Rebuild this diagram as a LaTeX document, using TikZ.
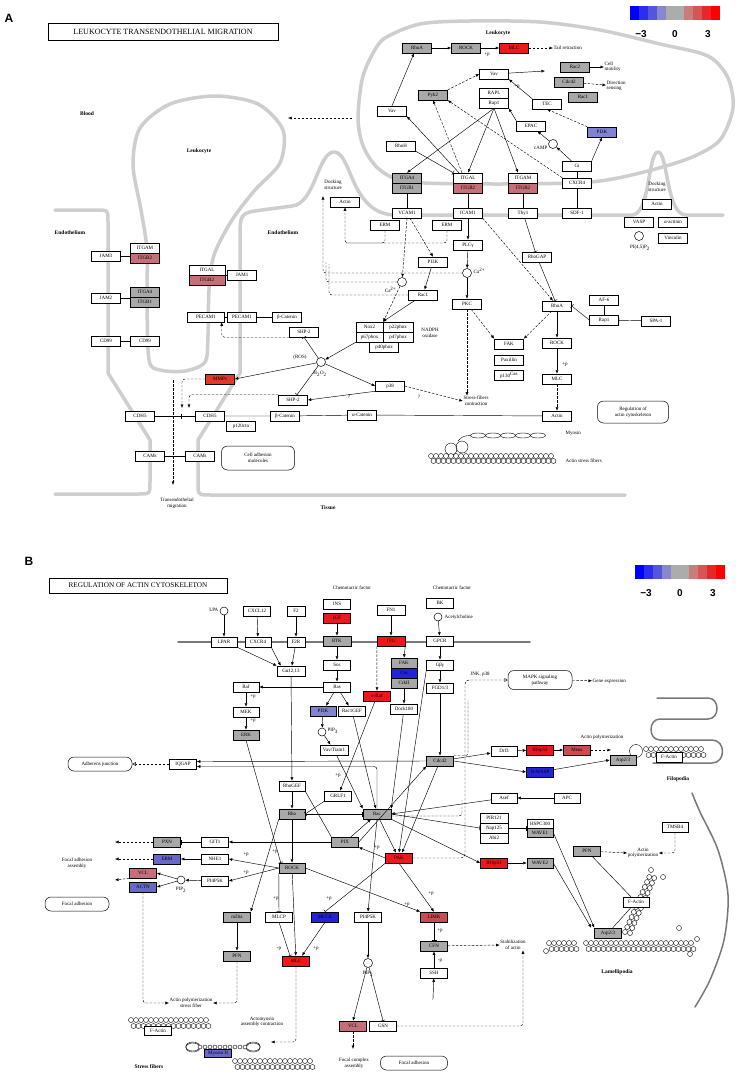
\documentclass[tikz,border=0pt]{standalone}
\usepackage{fontspec}
\setmainfont{Liberation Serif}
\newfontfamily\panelfont{Liberation Sans}
\newfontfamily\titlefont{Liberation Serif}
\usetikzlibrary{arrows.meta}

\definecolor{kgray}{RGB}{168,168,168}
\definecolor{kred}{RGB}{236,24,30}
\definecolor{kmmp}{RGB}{226,56,40}
\definecolor{kpink}{RGB}{196,112,120}
\definecolor{krose}{RGB}{200,76,84}
\definecolor{klav}{RGB}{130,130,210}
\definecolor{kmid}{RGB}{104,104,200}
\definecolor{kblue}{RGB}{36,36,214}
\definecolor{kmem}{RGB}{206,206,206}
\definecolor{kmemb}{RGB}{120,120,120}
\definecolor{lg0}{RGB}{0,0,255}
\definecolor{lg1}{RGB}{45,45,240}
\definecolor{lg2}{RGB}{85,85,220}
\definecolor{lg3}{RGB}{135,135,205}
\definecolor{lg4}{RGB}{172,172,172}
\definecolor{lg5}{RGB}{172,172,172}
\definecolor{lg6}{RGB}{200,125,125}
\definecolor{lg7}{RGB}{214,85,85}
\definecolor{lg8}{RGB}{232,40,40}
\definecolor{lg9}{RGB}{255,0,0}

\tikzset{
  gene/.style={draw,line width=0.5pt,fill=white,minimum width=29pt,minimum height=10pt,inner sep=0pt,font=\fontsize{5}{5}\selectfont},
  cpd/.style={circle,draw,line width=0.5pt,fill=white,minimum size=9pt,inner sep=0pt},
  txt/.style={font=\fontsize{5}{5.6}\selectfont,align=center,inner sep=0.5pt},
  region/.style={font=\fontsize{5.5}{6}\selectfont\bfseries,inner sep=0pt},
  pathway/.style={draw,line width=0.5pt,rounded corners=6pt,fill=white,font=\fontsize{5}{5.6}\selectfont,align=center,inner sep=1pt},
  titlebox/.style={draw,line width=0.8pt,inner sep=0pt,font=\titlefont},
  panel/.style={font=\panelfont\bfseries\fontsize{12}{12}\selectfont,inner sep=0pt},
  legnum/.style={font=\panelfont\bfseries\fontsize{10}{10}\selectfont,inner sep=0pt},
  act/.style={-{Latex[length=3.5pt,width=3pt]},line width=0.45pt},
  inh/.style={-{Bar[width=5pt]},line width=0.45pt},
  dact/.style={act,dash pattern=on 2.5pt off 1.5pt},
  ddash/.style={line width=0.45pt,dash pattern=on 2.5pt off 1.5pt},
  oact/.style={-{Triangle[open,length=3.5pt,width=3.5pt]},line width=0.45pt,dash pattern=on 2.5pt off 1.5pt},
  plain/.style={line width=0.45pt},
  membrane/.style={line width=3.5pt,color=kmem,line cap=round,line join=round},
  membraneb/.style={line width=1.8pt,color=kmemb,line cap=round,line join=round},
  bead/.style={line width=0.4pt}
}

\begin{document}
\begin{tikzpicture}[x=1pt,y=-1pt]
\useasboundingbox (0,0) rectangle (740,1079);
\fill[white] (0,0) rectangle (740,1079);

% ===== panel A =====
\node[panel] (pa) at (9,18) {A};
\node[titlebox,minimum width=230pt,minimum height=17pt] (titlea) at (163,31.5) {\fontsize{8}{8}\selectfont LEUKOCYTE TRANSENDOTHELIAL MIGRATION};

% cell outlines
\draw[membrane] (55,210) -- (96,210) .. controls (108,210) .. (108,222) -- (108,373) -- (150,440) -- (150,482) .. controls (150,494) .. (138,494) -- (55,494);
\draw[membrane] plot[smooth cycle] coordinates {(147,300)(147,250)(141,210)(133,165)(140,128)(170,104)(215,96)(258,104)(283,130)(280,163)(255,190)(232,220)(214,255)(209,290)(208,335)(205,362)(185,371)(160,370)(149,360)};
\draw[membrane] (625,495) -- (211,495) .. controls (198,495) .. (198,482) -- (198,440) -- (240,373) -- (240,240) .. controls (240,213) .. (262,210) -- (292,206) .. controls (315,204) and (318,152) .. (334,152) .. controls (352,152) and (350,214) .. (395,215) -- (632,215) .. controls (650,215) and (648,152) .. (658,152) .. controls (668,152) and (666,215) .. (686,215) -- (723,215);
\draw[membrane] plot[smooth cycle] coordinates {(372,55)(362,80)(358,120)(364,148)(380,170)(410,182)(500,184)(590,182)(640,173)(690,158)(720,140)(733,108)(728,78)(708,56)(660,44)(600,30)(540,22)(470,21)(420,24)(385,38)};

% colour keys
\foreach \lx/\ly/\nm in {630/6/a,635/565/b}{
  \foreach \c [count=\i from 0] in {lg0,lg1,lg2,lg3,lg4,lg5,lg6,lg7,lg8,lg9}
    \fill[\c] (\lx+\i*9,\ly) rectangle ++(9,14);
  \node[legnum] (lm\nm) at (\lx+11,\ly+28) {−3};
  \node[legnum] (lz\nm) at (\lx+45,\ly+28) {0};
  \node[legnum] (lp\nm) at (\lx+78,\ly+28) {3};
}

\node[region] (blood) at (87,114) {Blood};
\node[region] (leuka) at (199,151) {Leukocyte};
\node[region] (leukb) at (498,33) {Leukocyte};
\node[region] (endoa) at (70,233) {Endothelium};
\node[region] (endob) at (283,233) {Endothelium};
\node[region] (tissue) at (328,508) {Tissue};

% leukocyte
\node[gene,fill=kgray] (rhoa) at (417,48) {RhoA};
\node[gene,fill=kgray] (rock) at (466,48) {ROCK};
\node[gene,fill=kred] (mlc) at (514,48) {MLC};
\node[txt,anchor=west] (tail) at (553,48) {Tail retraction};
\node[gene] (vavt) at (494,74) {Vav};
\node[gene,fill=kgray] (rac2) at (575,67) {Rac2};
\node[txt,anchor=west,align=left] (motil) at (604,67) {Cell\\motility};
\node[gene,fill=kgray] (cdc42a) at (569,82) {Cdc42};
\node[txt,anchor=west,align=left] (dirsens) at (606,86) {Direction\\sensing};
\node[gene,fill=kgray] (rac1a) at (583,97) {Rac1};
\node[gene,fill=kgray] (pyk2) at (433,95) {Pyk2};
\node[gene] (rapl) at (494,93) {RAPL};
\node[gene] (rap1a) at (494,103) {Rap1};
\node[gene] (tec) at (547,104) {TEC};
\node[gene] (vavl) at (392,111) {Vav};
\node[gene] (epac) at (531,126) {EPAC};
\node[gene,fill=klav] (pi3ka) at (602,132) {PI3K};
\node[cpd] (camp) at (553,144) {};
\node[txt,anchor=east] (camptxt) at (548,148) {cAMP};
\node[gene] (rhoh) at (401,146) {RhoH};
\node[gene] (gi) at (577,166) {Gi};
\node[gene] (cxcr4a) at (577,183) {CXCR4};
\node[gene,fill=kgray] (itga4a) at (407,178) {ITGA4};
\node[gene,fill=kgray] (itgb1a) at (407,188) {ITGB1};
\node[gene] (itgala) at (468,178) {ITGAL};
\node[gene,fill=kpink] (itgb2a) at (468,188) {ITGB2};
\node[gene] (itgama) at (523,178) {ITGAM};
\node[gene,fill=kpink] (itgb2b) at (523,188) {ITGB2};
\coordinate (racgrp) at (545,71);
\coordinate (outa) at (352,118);
\coordinate (outb) at (288,118);
\node[txt] (ppa) at (487,55) {+p};
\node[txt] (ppb) at (517,87) {+p};

\draw[act] (rhoa) -- (rock);
\draw[act] (rock) -- (mlc);
\draw[dact] (mlc) -- (tail);
\draw[act] (vavl.north) -- ([xshift=-3pt]rhoa.south);
\draw[dact] (pyk2.north east) -- (vavt.west);
\draw[act] (vavt) -- (racgrp);
\draw[act] (rac2) -- (motil);
\draw[dact] (cdc42a) -- (dirsens);
\draw[act] (tec.north west) -- (vavt.south east);
\draw[act] (rap1a.south) -- (itga4a.north);
\draw[act] (rap1a.south) -- (itgala.north);
\draw[act] (rap1a.south) -- ([xshift=-5pt]itgama.north);
\draw[act] (epac.north west) -- (rap1a.south east);
\draw[act] (camp) -- (epac);
\draw[act] (gi) -- (camp);
\draw[act] (gi.north east) -- (pi3ka.south);
\draw[dact] (pi3ka.north west) -- (tec.south);
\draw[dact] (cxcr4a.north west) -- (pyk2.south east);
\draw[dact] ([xshift=-6pt]itgala.north) -- (pyk2.south);
\draw[act] ([xshift=-9pt]itgala.north) -- (vavl.south east);
\draw[inh] (rhoh.south east) -- (itgala.north west);
\draw[plain] (gi) -- (cxcr4a);
\draw[dact] (outa) -- (outb);

% endothelium
\node[gene] (vcam1) at (407,213) {VCAM1};
\node[gene] (icam1) at (468,213) {ICAM1};
\node[gene] (thy1) at (523,213) {Thy1};
\node[gene] (sdf1) at (577,213) {SDF-1};
\node[txt] (docka) at (333,185) {Docking\\structure};
\node[gene] (actina) at (345,202) {Actin};
\node[txt] (dockb) at (657,187) {Docking\\structure};
\node[gene] (actinc) at (657,204) {Actin};
\node[gene] (vasp) at (639,222) {VASP};
\node[gene] (actnn) at (673,222) {α-actinin};
\node[gene] (vinc) at (673,238) {Vinculin};
\node[cpd] (pip45) at (639,236) {};
\node[txt] (pip45txt) at (640,248) {PI(4,5)P\textsubscript{2}};
\node[gene] (erml) at (385,225) {ERM};
\node[gene] (ermr) at (447,225) {ERM};
\node[gene] (plcg) at (468,245) {PLCγ};
\node[gene] (pi3ke) at (433,262) {PI3K};
\node[cpd] (car) at (467,273) {};
\node[txt,anchor=west] (cartxt) at (473,271) {Ca\textsuperscript{2+}};
\node[cpd] (cal) at (402,282) {};
\node[txt,anchor=east] (caltxt) at (397,290) {Ca\textsuperscript{2+}};
\node[gene] (rac1e) at (423,295) {Rac1};
\node[gene] (pkc) at (467,304) {PKC};
\node[gene,minimum width=27pt] (nox2) at (369.5,327) {Nox2};
\node[gene,minimum width=30pt] (p22) at (398,327) {p22phox};
\node[gene,minimum width=27pt] (p67) at (369.5,337) {p67phox};
\node[gene,minimum width=30pt] (p47) at (398,337) {p47phox};
\node[gene] (p40) at (384,347) {p40phox};
\node[txt] (nadph) at (430,333) {NADPH\\oxidase};
\node[gene] (rhogap) at (537,257) {RhoGAP};
\node[gene] (rhoae) at (557,306) {RhoA};
\node[gene] (af6) at (604,300) {AF-6};
\node[gene] (rap1e) at (604,320) {Rap1};
\node[gene] (spa1) at (656,321) {SPA-1};
\node[gene] (rocke) at (557,343) {ROCK};
\node[gene] (mlce) at (557,379) {MLC};
\node[gene] (fak) at (509,344) {FAK};
\node[gene] (pax) at (509,360) {Paxillin};
\node[gene] (p130) at (509,375) {p130\textsuperscript{Cas}};
\node[pathway,minimum width=71pt,minimum height=22pt] (regact) at (633,412) {Regulation of\\actin cytoskeleton};
\node[gene] (actinb) at (557,416) {Actin};
\node[txt,anchor=west] (myotxt) at (565,433) {Myosin};
\node[txt,anchor=west] (asftxt) at (565,461) {Actin stress fibers};
\node[gene] (acat) at (362,415) {α-Catenin};
\node[gene] (bcatl) at (285,416) {β-Catenin};
\node[gene] (p38) at (390,386) {p38};
\node[txt] (stress) at (476,401) {Stress-fibers\\contraction};
\node[gene] (shp2u) at (304,332) {SHP-2};
\node[gene] (shp2l) at (293,400) {SHP-2};
\node[cpd] (h2o2) at (321,362) {};
\node[txt] (ros) at (300,357) {(ROS)};
\node[txt] (h2o2txt) at (320,374) {H\textsubscript{2}O\textsubscript{2}};
\node[gene,fill=kmmp] (mmps) at (220,379) {MMPs};
\node[txt] (qa) at (349,397) {?};
\node[txt] (qb) at (419,397) {?};
\node[txt] (ppc) at (565,365) {+p};
\node[gene] (cdh5l) at (140,416) {CDH5};
\node[gene] (cdh5r) at (210,416) {CDH5};
\node[gene] (p120) at (241,426) {p120ctn};
\node[gene] (camsl) at (150,456) {CAMs};
\node[gene] (camsr) at (200,456) {CAMs};
\node[pathway,minimum width=73pt,minimum height=24pt] (cam) at (258,458) {Cell adhesion\\molecules};
\node[txt] (transm) at (177,503) {Transendothelial\\migration};
\node[gene] (jam3) at (106,256) {JAM3};
\node[gene] (itgamc) at (145,248) {ITGAM};
\node[gene,fill=kpink] (itgb2c) at (145,258) {ITGB2};
\node[gene] (jam2) at (106,298) {JAM2};
\node[gene,fill=kgray] (itga4c) at (145,292) {ITGA4};
\node[gene,fill=kgray] (itgb1c) at (145,302) {ITGB1};
\node[gene] (cd99l) at (106,341) {CD99};
\node[gene] (cd99r) at (145,341) {CD99};
\node[gene,minimum width=36pt] (itgald) at (207,270) {ITGAL};
\node[gene,minimum width=36pt,fill=kpink] (itgb2d) at (207,280) {ITGB2};
\node[gene] (jam1) at (242,275) {JAM1};
\node[gene,minimum width=37pt] (pecaml) at (206,317) {PECAM1};
\node[gene] (pecamr) at (242,317) {PECAM1};
\node[gene] (bcatu) at (287,317) {β-Catenin};
\coordinate (dk1) at (345,243);
\coordinate (dk2) at (323,196);
\coordinate (dk3) at (326,262);
\coordinate (dk4) at (329,264);
\coordinate (cdhmid) at (181,416);
\coordinate (cdhta) at (182,408);
\coordinate (cdhtb) at (189,408);
\coordinate (tmtop) at (173,380);
\coordinate (tmbot) at (173,485);

\draw[plain] (itgb1a) -- (vcam1);
\draw[plain] (itgb2a) -- (icam1);
\draw[plain] (itgb2b) -- (thy1);
\draw[plain] (cxcr4a) -- (sdf1);
\draw[dact] (vcam1.south) -- (cal);
\draw[dact] ([xshift=3pt]vcam1.south) -- (pi3ke.north);
\draw[act] (icam1) -- (plcg);
\draw[act] (plcg) -- (car);
\draw[act] (car) -- (pkc);
\draw[dact] (icam1.south east) -- ([xshift=-4pt]rhoae.north);
\draw[act] (pi3ke) -- (rac1e);
\draw[dact] (cal) -- (nox2.north east);
\draw[act] (rac1e) -- (p22.north west);
\draw[act] (p67.south west) -- (h2o2);
\draw[act] (h2o2) -- (mmps.east);
\draw[act] (h2o2) -- (p38.west);
\draw[inh] (h2o2) -- (shp2u.south);
\draw[inh] (h2o2) -- ([xshift=4pt]shp2l.north);
\draw[act] (p38.south west) -- (shp2l.east);
\draw[dact] (p38.east) -- (stress.west);
\draw[dact] (pkc.south) -- (pkc.south |- stress.north);
\draw[dact] (pkc) -- (fak.north west);
\draw[dact] (rhoae) -- (fak.north east);
\draw[act] (rhoae) -- (rocke);
\draw[act] (rocke) -- (mlce);
\draw[dact] (mlce) -- (actinb);
\draw[inh] (rhogap) -- ([xshift=-2pt]rhoae.north);
\draw[inh] (thy1) -- (rhogap);
\draw[inh] (rap1e.west) -- (rhoae.east);
\draw[plain] (af6) -- (rap1e);
\draw[inh] (spa1) -- (rap1e);
\draw[ddash,rounded corners=3pt] (erml.south) |- (dk1);
\draw[dact,rounded corners=3pt] (ermr.south) |- (dk1) -- (actina.south);
\draw[dact,rounded corners=3pt] (car.west) -| (dk2);
\draw[ddash,rounded corners=3pt] (cal.west) -| (dk3);
\draw[ddash,rounded corners=3pt] (rac1e.west) -| (dk4);
\draw[dact,rounded corners=3pt] (shp2u.south west) -| ([xshift=-3pt]pecaml.south east);
\draw[dact,rounded corners=3pt] (mmps.west) -| (cdhta);
\draw[dact,rounded corners=3pt] (shp2l.north west) -| (cdhtb);
\draw[dact] (tmtop) -- (tmbot);
\draw[inh] (cdh5l) -- (cdhmid);
\draw[plain] (cdhmid) -- (cdh5r);
\draw[plain] (cdh5r) -- (bcatl) -- (acat) -- (actinb);
\draw[plain] (camsl) -- (camsr);
\draw[plain] (pecaml) -- (pecamr) -- (bcatu);
\draw[plain] (jam1.west) -- (jam1.west -| itgald.east);
\draw[plain] (jam3) -- (jam3 -| itgamc.west);
\draw[plain] (jam2) -- (jam2 -| itga4c.west);
\draw[plain] (cd99l) -- (cd99r);

% myosin and actin fibres
\foreach \mx in {478,493,508,523,538} \draw[bead] (\mx,435.5) ellipse [x radius=7.5pt,y radius=2.5pt];
\draw[bead] (451,449) circle [radius=6pt];
\draw[bead] (462,447) circle [radius=6pt];
\draw[bead] (458,441) .. controls (463,436) .. (471,435.5);
\foreach \i in {0,...,24} {
  \draw[bead,fill=white] (431+\i*5,456) circle [radius=2.5pt];
  \draw[bead,fill=white] (433.5+\i*5,461) circle [radius=2.5pt];
}

% ===== panel B =====
\node[panel] (pb) at (29,561) {B};
\node[titlebox,minimum width=178pt,minimum height=15pt] (titleb) at (138,585.5) {\fontsize{7.2}{7.2}\selectfont REGULATION OF ACTIN CYTOSKELETON};
\draw[membraneb] (178,642) -- (530,642);
% filopodium and lamellipodium outlines
\draw[membraneb,line width=1.5pt] (657,698) -- (708,698) .. controls (720,698) and (720,719) .. (708,719) -- (660,719) .. controls (648,719) and (648,740) .. (660,740) -- (712,740) .. controls (726,740) and (726,763) .. (712,763) -- (653,763);
\draw[membraneb,line width=1.5pt] plot[smooth] coordinates {(692,793)(700,812)(718,850)(728,895)(724,940)(710,980)(695,1007)};

\node[cpd,minimum size=8pt] (lpa) at (224,611) {};
\node[txt,anchor=east] (lpatxt) at (219,610) {LPA};
\node[gene,minimum width=27pt] (cxcl12) at (257,611) {CXCL12};
\node[gene,minimum width=18pt] (f2) at (296,611) {F2};
\node[gene,minimum width=26pt] (lpar) at (224,642) {LPAR};
\node[gene,minimum width=26pt] (cxcr4b) at (258,642) {CXCR4};
\node[gene,minimum width=18pt] (f2r) at (296,642) {F2R};
\node[gene,minimum width=28pt] (galpha) at (291,671) {Gα12,13};
\node[txt] (chema) at (352,588) {Chemotactic factor};
\node[txt] (chemb) at (452,588) {Chemotactic factor};
\node[gene,minimum width=27pt] (ins) at (337,604) {INS};
\node[gene,minimum width=27pt,fill=kred] (igf) at (337,618) {IGF};
\node[gene,minimum width=28pt,fill=kgray] (rtk) at (337,641) {RTK};
\node[gene,minimum width=28pt] (fn1) at (391,610) {FN1};
\node[gene,minimum width=28pt,fill=kred] (itg) at (391,641) {ITG};
\node[gene,minimum width=27pt] (bk) at (440,603) {BK};
\node[cpd,minimum size=8pt] (ach) at (438,617) {};
\node[txt,anchor=west] (achtxt) at (444,617) {Acetylcholine};
\node[gene,minimum width=27pt] (gpcr) at (440,641) {GPCR};
\node[gene,minimum width=27pt] (sos) at (337,665) {Sos};
\node[gene,minimum width=27pt] (ras) at (337,687) {Ras};
\node[gene,minimum width=26pt] (raf) at (246,687) {Raf};
\node[gene,minimum width=26pt] (mek) at (246,712) {MEK};
\node[gene,minimum width=26pt,fill=kgray] (erk) at (246,735) {ERK};
\node[gene,minimum width=26pt,fill=kgray] (fakb) at (404,663) {FAK};
\node[gene,minimum width=26pt,fill=kblue] (cas) at (404,673) {Cas};
\node[gene,minimum width=26pt,fill=kgray] (crk) at (404,683) {CrkII};
\node[gene,minimum width=27pt] (gbg) at (440,665) {Gβγ};
\node[gene,minimum width=27pt] (fgd) at (440,688) {FGD1/3};
\node[gene,minimum width=27pt,fill=kred] (craf) at (377,696) {c-Raf};
\node[gene,minimum width=27pt] (dock) at (404,709) {Dock180};
\node[gene,minimum width=26pt,fill=klav] (pi3kb) at (323,711) {PI3K};
\node[gene,minimum width=27pt] (racgef) at (352,711) {Rac1GEF};
\node[cpd,minimum size=8pt] (pip3) at (322,732) {};
\node[txt,anchor=west] (pip3txt) at (327,731) {PIP\textsubscript{3}};
\node[gene,minimum width=28pt] (vav) at (334,750) {Vav/Tiam1};
\node[txt] (jnk) at (480,674) {JNK, p38};
\node[pathway,minimum width=64pt,minimum height=19pt] (mapk) at (540,680) {MAPK signaling\\pathway};
\node[txt,anchor=west] (geneexp) at (592,681) {Gene expression};
\node[gene,minimum width=27pt,fill=kgray] (cdc42) at (440,761) {Cdc42};
\node[gene,minimum width=26pt] (drf3) at (504,751) {Drf3};
\node[gene,minimum width=27pt,fill=kred] (irsp) at (540,750) {IRSp53};
\node[gene,minimum width=27pt,fill=krose] (mena) at (577,750) {Mena};
\node[gene,minimum width=27pt,fill=kblue] (nwasp) at (540,772) {N-WASP};
\node[txt] (actpolf) at (602,737) {Actin polymerization};
\coordinate (menaend) at (611,750);
% filopodial actin
\draw[bead,fill=white] (636,751) circle [radius=6.5pt];
\foreach \i in {0,...,11} {
  \draw[bead,fill=white] (646+\i*5,749) circle [radius=2.5pt];
  \draw[bead,fill=white] (648.5+\i*5,755) circle [radius=2.5pt];
}
\node[gene,minimum width=26pt,fill=kgray] (arpu) at (623,760) {Arp2/3};
\node[gene,minimum width=26pt] (factf) at (669,757) {F-Actin};
\node[region] (filo) at (678,779) {Filopodia};

\node[pathway,minimum width=64pt,minimum height=14pt] (adh) at (100,764) {Adherens junction};
\node[gene,minimum width=27pt] (iqgap) at (183,764) {IQGAP};
\node[gene,minimum width=26pt] (rhogef) at (292,786) {RhoGEF};
\node[gene,minimum width=27pt] (grlf) at (338,796) {GRLF1};
\node[gene,minimum width=26pt,fill=kgray] (rho) at (292,814) {Rho};
\node[gene,minimum width=28pt,fill=kgray] (rac) at (377,814) {Rac};
\node[gene,minimum width=27pt,fill=kgray] (pix) at (345,842) {PIX};
\node[gene,minimum width=27pt,fill=kred] (pak) at (399,858) {PAK};
\node[gene,minimum width=26pt] (asef) at (504,798) {Asef};
\node[gene,minimum width=26pt] (apc) at (567,798) {APC};
\node[gene,minimum width=28pt] (pir) at (494,818) {PIR121};
\node[gene,minimum width=28pt] (nap) at (494,828) {Nap125};
\node[gene,minimum width=28pt] (abi) at (494,838) {Abi2};
\node[gene,minimum width=26pt,minimum height=9pt] (hspc) at (540,823.5) {HSPC300};
\node[gene,minimum width=26pt,minimum height=9pt,fill=kgray] (wave1) at (540,832.5) {WAVE1};
\node[gene,minimum width=27pt,fill=kred] (irspl) at (494,863) {IRSp53};
\node[gene,minimum width=26pt,fill=kgray] (wave2) at (540,863) {WAVE2};
\node[gene,minimum width=26pt] (tmsb) at (675,827) {TMSB4};
\node[gene,minimum width=27pt,fill=kgray] (pfnr) at (587,851) {PFN};
\node[txt] (actpoll) at (643,853) {Actin\\polymerization};
% lamellipodial actin
\foreach \i in {0,...,5} {
  \draw[bead,fill=white] (549+\i*5,943) circle [radius=2.5pt];
  \draw[bead,fill=white] (551.5+\i*5,949) circle [radius=2.5pt];
}
\foreach \i in {0,...,21} {
  \draw[bead,fill=white] (586+\i*5,943) circle [radius=2.5pt];
  \draw[bead,fill=white] (588.5+\i*5,949) circle [radius=2.5pt];
}
\foreach \i in {0,...,11} {
  \draw[bead,fill=white] (625+\i*2.2,932-\i*5) circle [radius=2.5pt];
  \draw[bead,fill=white] (630+\i*2.2,933-\i*5) circle [radius=2.5pt];
}
\foreach \cx/\cy in {651/870,663/877,679/928,697/939,690/954,546/951}
  \draw[bead] (\cx,\cy) circle [radius=2.5pt];
\node[gene,minimum width=26pt] (factl) at (636,902) {F-Actin};
\node[gene,minimum width=27pt,fill=kgray] (arpl) at (608,933) {Arp2/3};
\node[txt] (stab) at (513,945) {Stabilization\\of actin};
\node[region] (lamel) at (617,972) {Lamellipodia};

\node[gene,minimum width=27pt,fill=kgray] (pxn) at (167,842) {PXN};
\node[gene,minimum width=27pt] (git) at (215,842) {GIT1};
\node[gene,minimum width=27pt,fill=kmid] (erm) at (167,859) {ERM};
\node[gene,minimum width=27pt] (nhe) at (215,859) {NHE1};
\node[gene,minimum width=27pt,fill=kpink] (vcl) at (143,873) {VCL};
\node[gene,minimum width=27pt,fill=kmid] (actn) at (143,887) {ACTN};
\node[cpd,minimum size=8pt] (pip2) at (181,880) {};
\node[txt] (pip2txt) at (181,890) {PIP\textsubscript{2}};
\node[gene,minimum width=27pt] (pip5k) at (215,881) {PI4P5K};
\node[gene,minimum width=26pt,fill=kgray] (rock2) at (292,868) {ROCK};
\node[txt] (faa) at (77,863) {Focal adhesion\\assembly};
\node[pathway,minimum width=64pt,minimum height=14pt] (fadl) at (77,904) {Focal adhesion};
\coordinate (fa1) at (115,842);
\coordinate (fa2) at (115,859);
\coordinate (fa3) at (115,880);

\node[gene,minimum width=27pt,fill=kgray] (mdia) at (237,917) {mDia};
\node[gene,minimum width=27pt,fill=kgray] (pfn) at (237,956) {PFN};
\node[gene,minimum width=27pt] (mlcp) at (279,917) {MLCP};
\node[gene,minimum width=27pt,fill=kblue] (mlck) at (325,917) {MLCK};
\node[gene,minimum width=27pt,fill=kred] (mlc2) at (296,961) {MLC};
\node[gene,minimum width=27pt] (pi4) at (368,917) {PI4P5K};
\node[gene,minimum width=27pt,fill=krose] (limk) at (434,917) {LIMK};
\node[gene,minimum width=27pt,fill=kgray] (cfn) at (434,946) {CFN};
\node[gene,minimum width=27pt] (ssh) at (434,973) {SSH};
\node[txt] (qssh) at (433,999) {?};
\node[cpd] (pip2b) at (368,963) {};
\node[txt] (pip2btxt) at (368,974) {PIP\textsubscript{2}};
\node[gene,minimum width=27pt,fill=kpink] (vclb) at (353,1026) {VCL};
\node[gene,minimum width=27pt] (gsn) at (383,1026) {GSN};
\node[txt] (fca) at (354,1063) {Focal complex\\assembly};
\node[pathway,minimum width=67pt,minimum height=14pt] (fadr) at (414,1063) {Focal adhesion};
\node[txt] (apsf) at (191,1003) {Actin polymerization\\stress fiber};
\node[txt] (amc) at (262,1022) {Actomyosin\\assembly contraction};
\node[region] (sfib) at (149,1067) {Stress fibers};
\coordinate (myoend) at (271,1042);
\coordinate (fcend) at (353,1049);
% stress fibre drawing
\foreach \i in {0,...,15} {
  \draw[bead,fill=white] (131+\i*5,1020) circle [radius=2.5pt];
  \draw[bead,fill=white] (133.5+\i*5,1026) circle [radius=2.5pt];
}
\node[gene,minimum width=27pt,minimum height=9pt] (factsf) at (158,1031) {F-Actin};
\foreach \px/\ang in {192/30,192/-30,254/150,254/210}
  \draw[bead] (\px,1047) ++(\ang:1pt) ellipse [x radius=7pt,y radius=4.5pt];
\foreach \i in {0,...,9} \draw[bead,fill=white] (200+\i*5,1047) circle [radius=2pt];
\node[gene,minimum width=27pt,minimum height=8pt,fill=kmid] (myo2) at (218,1053) {Myosin II};
\foreach \i in {0,...,15} {
  \draw[bead,fill=white] (235+\i*5,1061) circle [radius=2.5pt];
  \draw[bead,fill=white] (237.5+\i*5,1067) circle [radius=2.5pt];
}

% +p labels
\node[txt] (pb1) at (253,697) {+p};
\node[txt] (pb2) at (253,721) {+p};
\node[txt] (pb3) at (246,855) {+p};
\node[txt] (pb4) at (246,873) {+p};
\node[txt] (pb5) at (275,852) {+p};
\node[txt] (pb6) at (338,776) {+p};
\node[txt] (pb7) at (377,848) {+p};
\node[txt] (pb8) at (276,899) {+p};
\node[txt] (pb9) at (279,949) {-p};
\node[txt] (pb10) at (316,949) {+p};
\node[txt] (pb11) at (329,899) {+p};
\node[txt] (pb12) at (407,905) {+p};
\node[txt] (pb13) at (431,894) {+p};
\node[txt] (pb14) at (440,931) {+p};
\node[txt] (pb15) at (440,961) {-p};

% B connections
\draw[act] (lpa) -- (lpar);
\draw[act] (cxcl12) -- (cxcr4b);
\draw[act] (f2) -- (f2r);
\draw[act] (lpar.south east) -- (galpha.north west);
\draw[act] (cxcr4b.south east) -- ([xshift=4pt]galpha.north west);
\draw[act] (f2r) -- (galpha);
\draw[act] (igf) -- (rtk);
\draw[act] (fn1) -- (itg);
\draw[act] (ach) -- (gpcr);
\draw[act] (rtk) -- (sos);
\draw[act] (sos) -- (ras);
\draw[act] (ras) -- (raf);
\draw[act] (raf) -- (mek);
\draw[act] (mek) -- (erk);
\draw[act] (ras) -- (pi3kb);
\draw[act] (ras) -- (racgef);
\draw[act] (itg.south east) -- (fakb.north);
\draw[dact] (itg.south west) -- (craf.north);
\draw[act] (crk) -- (dock);
\draw[act] (gpcr) -- (gbg);
\draw[act] (gbg) -- (fgd);
\draw[act] (fgd) -- (cdc42);
\draw[act] (galpha) -- (rhogef);
\draw[act] (rhogef) -- (rho);
\draw[act] (rho) -- (rock2);
\draw[plain] (rhogef.south east) -- (pix.north west);
\draw[act] (pi3kb) -- (pip3);
\draw[act] (pip3) -- (vav);
\draw[act] (vav) -- (rac.north west);
\draw[act] (racgef) -- (rac);
\draw[act] (dock) -- (rac.north east);
\draw[act] (craf) -- (grlf);
\draw[inh] (grlf.south west) -- (rho.east);
\draw[inh] (rho) -- (rac);
\draw[act] (pix) -- (rac);
\draw[act] (pix.east) -- (cdc42.south west);
\draw[act] (pak.west) -- (pix.south east);
\draw[act] (rac) -- ([xshift=-3pt]pak.north);
\draw[act] (cdc42) -- ([xshift=3pt]pak.north);
\draw[act] (gbg.south west) -- (pak.north);
\draw[act] (cdc42) -- (drf3);
\draw[act] (drf3) -- (irsp);
\draw[act] (irsp) -- (mena);
\draw[dact] (mena) -- (menaend);
\draw[act] (cdc42.east) -- (nwasp.west);
\draw[act] (nwasp) -- (arpu.west);
\draw[act] (apc) -- (asef);
\draw[act] (asef) -- (rac.east);
\draw[inh] (rac.east) -- (nap.west);
\draw[act] (rac.south east) -- (irspl.west);
\draw[inh] (nap.east) -- (nap.east -| hspc.west);
\draw[act] (irspl) -- (wave2);
\draw[act] (wave1.east) -- (arpl.north west);
\draw[act] (wave2.east) -- ([xshift=-3pt]arpl.north west);
\draw[plain] (pfnr) -- (factl);
\draw[plain] (factl) -- (arpl);
\draw[dact] (pfnr) -- (actpoll.west);
\draw[dact,rounded corners=3pt] (tmsb.south) |- (actpoll.east);
\draw[act,rounded corners=3pt] (rac.north) |- ([yshift=-2.5pt]iqgap.east);
\draw[act] (cdc42.west) -- ([yshift=2.5pt]iqgap.east);
\draw[oact] (iqgap) -- (adh);
\draw[oact,rounded corners=4pt] (pak.east) -| (465,700) |- (mapk.west);
\draw[ddash,rounded corners=3pt] ([yshift=-2pt]rac.east) -| (462,800);
\draw[ddash,rounded corners=3pt] (cdc42.north east) -| (468,700);
\draw[dact] (mapk) -- (geneexp);
\draw[act] (pix) -- (git);
\draw[inh] (git) -- (pxn);
\draw[act] (nhe) -- (erm);
\draw[act] (rock2.west) -- (nhe.east);
\draw[act] (rock2.west) -- (pip5k.east);
\draw[act] (pip5k) -- (pip2);
\draw[act] (pip2) -- (vcl.east);
\draw[act] (pip2) -- (actn.east);
\draw[inh] (erk.south) -- ([xshift=2pt]rock2.north west);
\draw[dact] (pxn) -- (fa1);
\draw[dact] (erm) -- (fa2);
\draw[dact] (vcl.south west) -- (fa3);
\draw[act] (rho.south west) -- (mdia.north east);
\draw[act] (mdia) -- (pfn);
\draw[inh] (rock2.south west) -- (mlcp.north);
\draw[act] (rock2) -- (mlc2);
\draw[inh] (mlcp.south) -- ([xshift=-6pt]mlc2.north);
\draw[act] (mlck.south) -- ([xshift=6pt]mlc2.north);
\draw[inh] (pak.south west) -- (mlck.north);
\draw[act] (rac.south) -- (pi4.north);
\draw[act] (rock2.east) -- (limk.north west);
\draw[act] (pak.south) -- (limk.north);
\draw[inh] (limk) -- (cfn);
\draw[act] (ssh) -- (cfn);
\draw[act] (qssh) -- (ssh);
\draw[act] (pi4) -- (pip2b);
\draw[act] (pip2b) -- (vclb.north);
\draw[inh] (pip2b) -- (gsn.north);
\draw[dact] (vclb) -- (fcend);
\draw[dact,rounded corners=3pt] (gsn.east) -| ([xshift=10pt]stab.south);
\draw[dact] (cfn) -- (stab.west);
\draw[dact,rounded corners=3pt] (actn.south) |- (apsf.west);
\draw[dact,rounded corners=3pt] (pfn.south) |- (apsf.east);
\draw[dact,rounded corners=3pt] (mlc2.south) |- (myoend);
\end{tikzpicture}
\end{document}
